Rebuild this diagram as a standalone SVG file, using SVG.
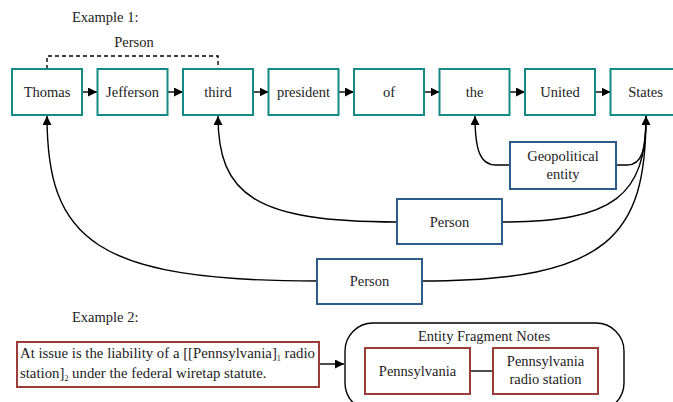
<svg xmlns="http://www.w3.org/2000/svg" width="673" height="402" viewBox="0 0 673 402">
<defs>
<marker id="ah" viewBox="0 0 10 10" refX="10" refY="5" markerWidth="9" markerHeight="9" markerUnits="userSpaceOnUse" orient="auto">
<path d="M0,0 L10,5 L0,10 z" fill="#000"/>
</marker>
<style>
text{font-family:"Liberation Serif","Times New Roman",serif;font-size:14.5px;fill:#222}
.c{text-anchor:middle}
.s{font-size:14.8px}
.tok{fill:#fff;stroke:#148a86;stroke-width:2}
.ent{fill:#fff;stroke:#2d5c8b;stroke-width:2}
.red{fill:#fff;stroke:#9b3c38;stroke-width:2}
.ln{fill:none;stroke:#000;stroke-width:1.4}
.ar{fill:none;stroke:#000;stroke-width:1.4;marker-end:url(#ah)}
</style>
</defs>
<rect width="673" height="402" fill="#fff"/>
<text x="72" y="22">Example 1:</text>
<text x="72" y="322">Example 2:</text>
<g id="connectors">
<path class="ln" d="M47,69 V56 H218 V69" stroke-dasharray="4,3"/>
<text class="c" x="134" y="47">Person</text>
<path class="ar" d="M82,92 H97"/>
<path class="ar" d="M167.5,92 H183"/>
<path class="ar" d="M253,92 H268.5"/>
<path class="ar" d="M338.5,92 H354"/>
<path class="ar" d="M424,92 H439.5"/>
<path class="ar" d="M509.5,92 H525"/>
<path class="ar" d="M595,92 H610.5"/>
<path class="ar" d="M510,165 H496 C480,165 475,150 475,116"/>
<path class="ar" d="M616,165 H627 C642,165 646,150 646,116"/>
<path class="ar" d="M397,222 C255,222 218,195 218,116"/>
<path class="ln" d="M502,222 C615,222 646,195 646,116"/>
<path class="ar" d="M317,281 C95,281 47,240 47,116"/>
<path class="ln" d="M422,281 C610,281 646,235 646,116"/>
<path class="ar" d="M319,364 H344"/>
<path class="ln" d="M470,371 H493"/>
</g>
<g id="n-thomas"><rect class="tok" x="12" y="69" width="70" height="46"/><text class="c" x="47" y="97">Thomas</text></g>
<g id="n-jefferson"><rect class="tok" x="97.5" y="69" width="70" height="46"/><text class="c" x="132.5" y="97">Jefferson</text></g>
<g id="n-third"><rect class="tok" x="183" y="69" width="70" height="46"/><text class="c" x="218" y="97">third</text></g>
<g id="n-president"><rect class="tok" x="268.5" y="69" width="70" height="46"/><text class="c" x="303.5" y="97">president</text></g>
<g id="n-of"><rect class="tok" x="354" y="69" width="70" height="46"/><text class="c" x="389" y="97">of</text></g>
<g id="n-the"><rect class="tok" x="439.5" y="69" width="70" height="46"/><text class="c" x="474.5" y="97">the</text></g>
<g id="n-united"><rect class="tok" x="525" y="69" width="70" height="46"/><text class="c" x="560" y="97">United</text></g>
<g id="n-states"><rect class="tok" x="610.5" y="69" width="70" height="46"/><text class="c" x="645.5" y="97">States</text></g>
<g id="n-geo"><rect class="ent" x="510" y="142" width="106" height="47"/><text class="c" x="563" y="161">Geopolitical</text><text class="c" x="563" y="179">entity</text></g>
<g id="n-person1"><rect class="ent" x="397" y="199" width="105" height="45"/><text class="c" x="449.5" y="227">Person</text></g>
<g id="n-person2"><rect class="ent" x="317" y="259" width="105" height="45"/><text class="c" x="369.5" y="286">Person</text></g>
<g id="n-sentence"><rect class="red" x="17" y="342" width="302" height="45"/>
<text class="s" x="20" y="358">At issue is the liability of a [[Pennsylvania]<tspan font-size="8" dy="3">1</tspan><tspan dy="-3">  radio</tspan></text>
<text class="s" x="20" y="378">station]<tspan font-size="8" dy="3">2</tspan><tspan dy="-3">  under the federal wiretap statute.</tspan></text>
</g>
<g id="n-notes"><rect x="345" y="323" width="279" height="88" rx="28" fill="none" stroke="#000" stroke-width="1.4"/><text class="c" x="484" y="341">Entity Fragment Notes</text></g>
<g id="n-penn"><rect class="red" x="365" y="348" width="105" height="46"/><text class="c" x="417.5" y="376">Pennsylvania</text></g>
<g id="n-pennradio"><rect class="red" x="493" y="348" width="105" height="46"/><text class="c" x="545.5" y="366">Pennsylvania</text><text class="c" x="545.5" y="384">radio station</text></g>
</svg>
